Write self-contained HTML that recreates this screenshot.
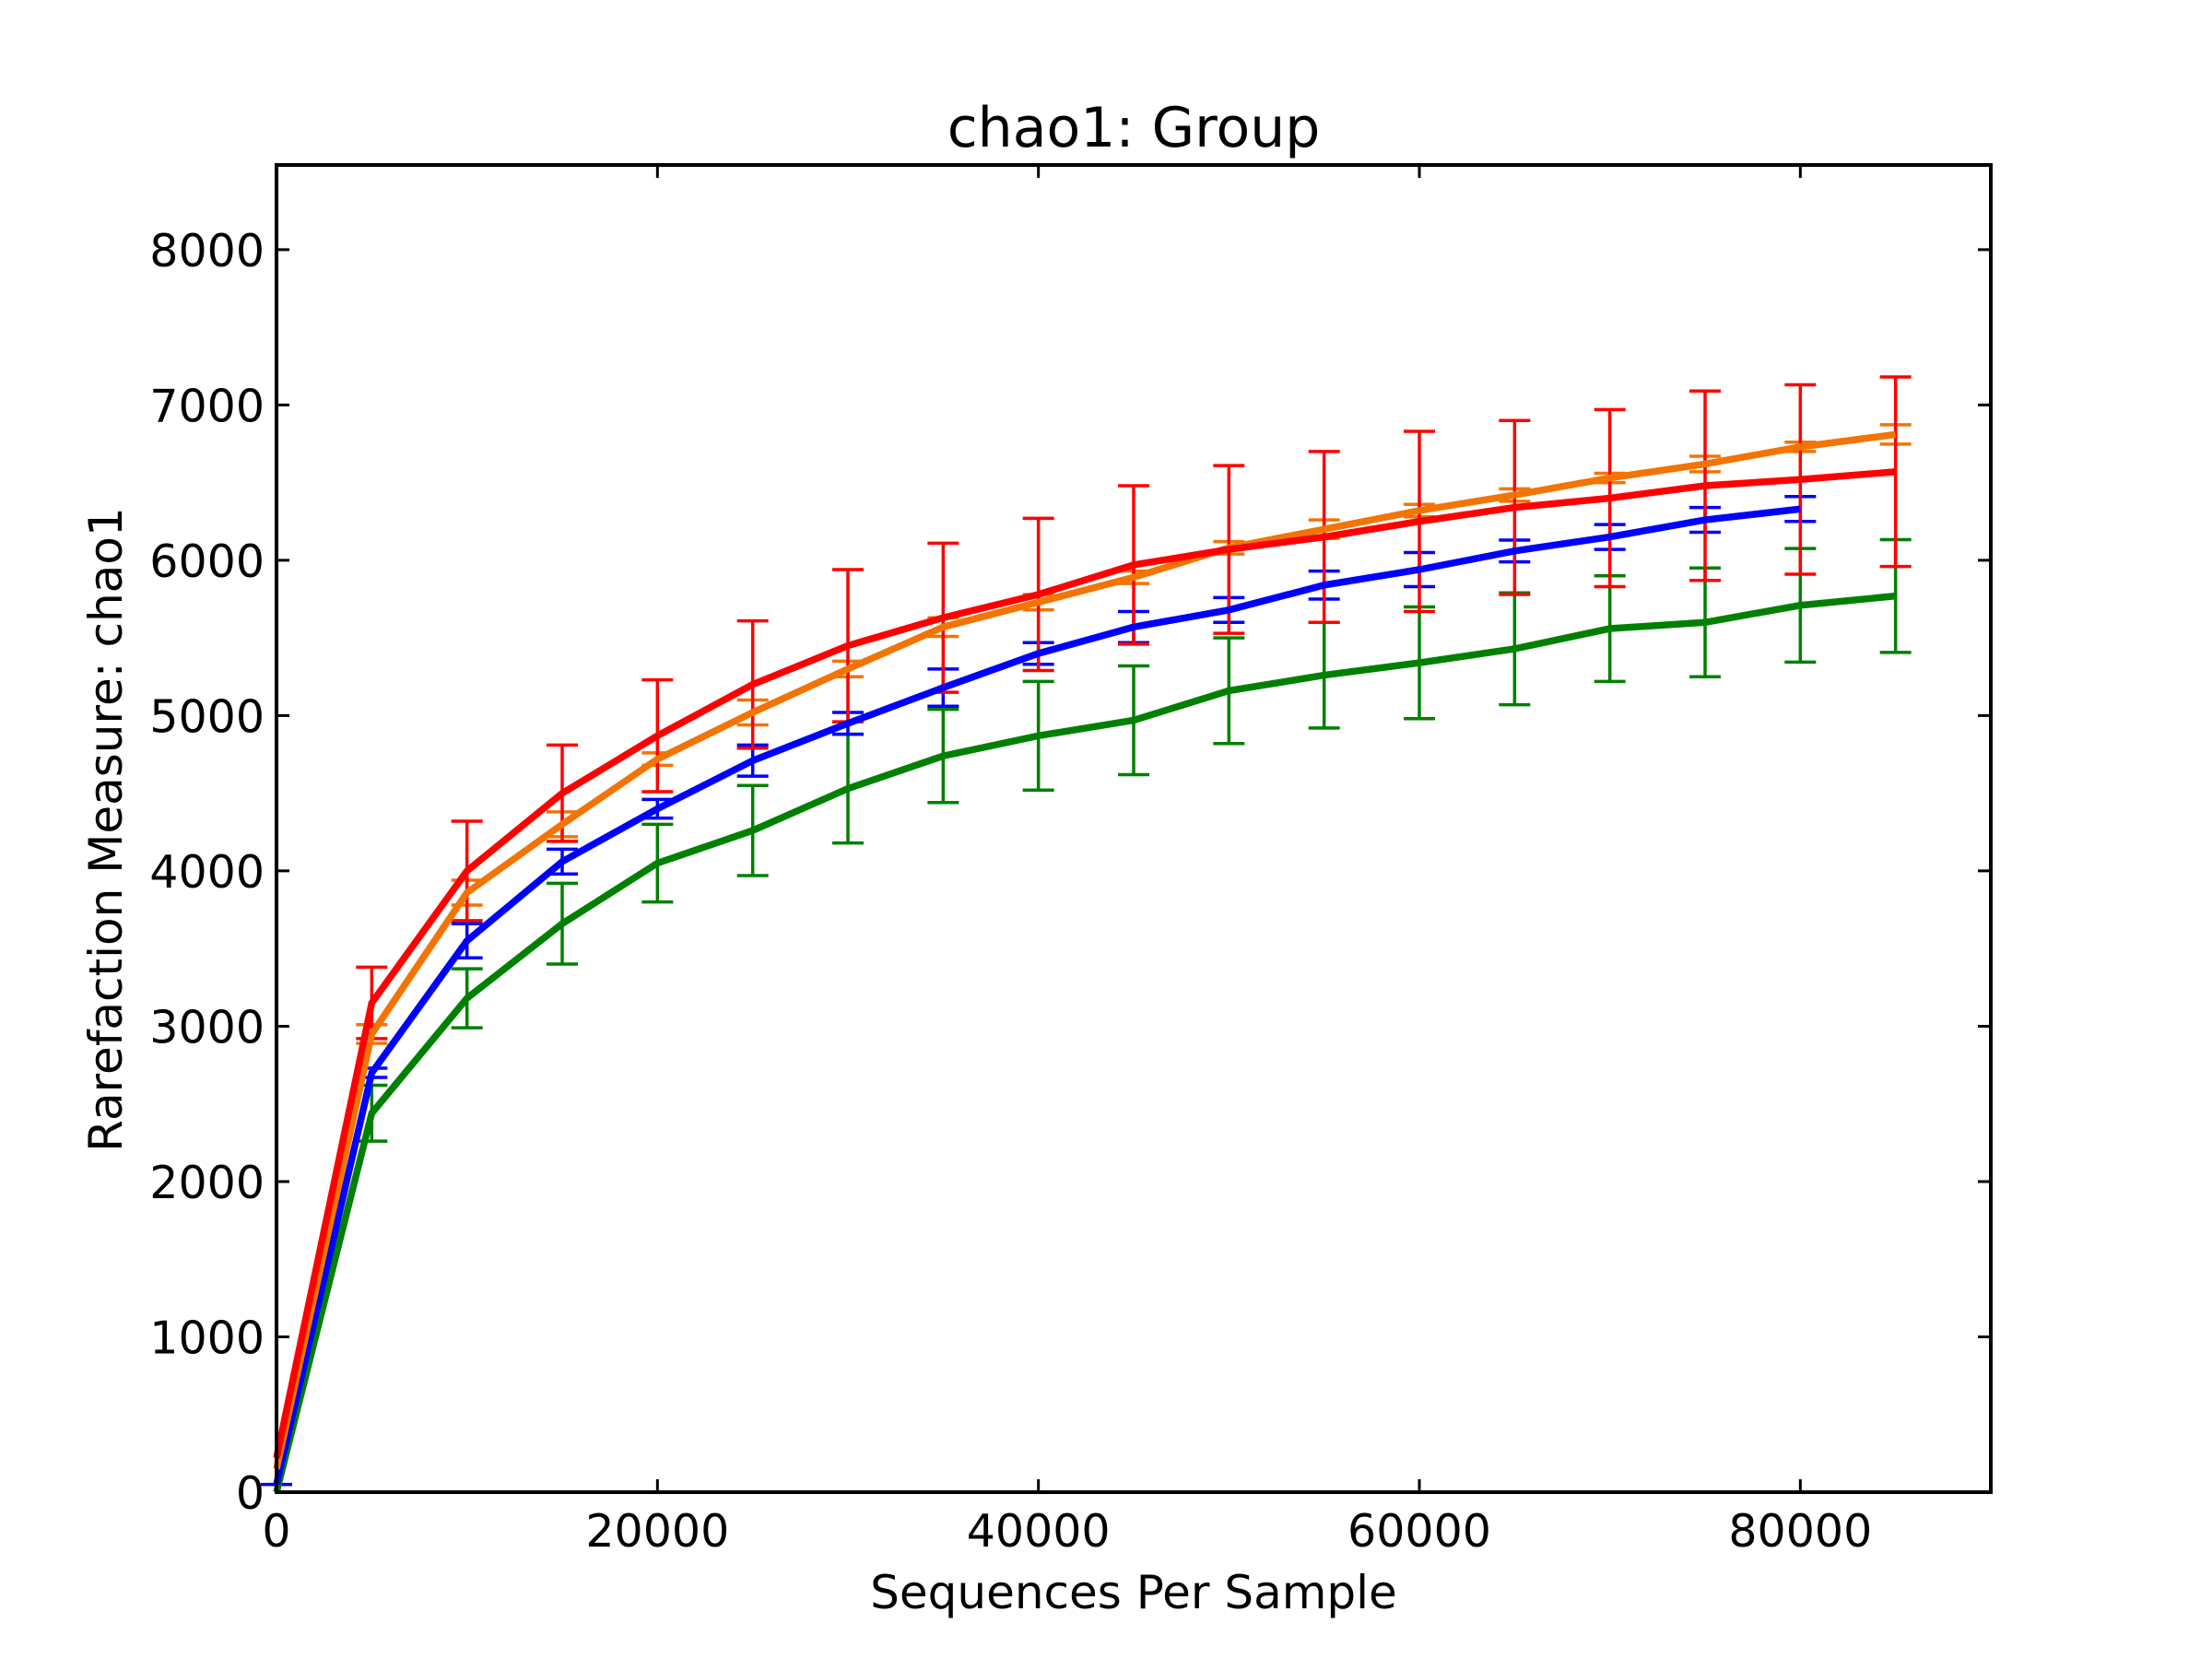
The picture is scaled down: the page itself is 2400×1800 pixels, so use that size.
<!DOCTYPE html>
<html><head><meta charset="utf-8"><style>
html,body{margin:0;padding:0;background:#fff;}
svg{display:block;font-family:"DejaVu Sans","Liberation Sans",sans-serif;}
</style></head><body>
<svg id="chart" width="2400" height="1800" viewBox="0 0 2400 1800" xmlns="http://www.w3.org/2000/svg">
<rect x="0" y="0" width="2400" height="1800" fill="#fff"/>
<g id="marks"></g>
<g id="axes"></g>
<text x="1230" y="159" font-size="60" text-anchor="middle">chao1: Group</text>
<text x="1230" y="1745" font-size="50" text-anchor="middle">Sequences Per Sample</text>
<text x="0" y="0" font-size="50" text-anchor="middle" transform="translate(132,900) rotate(-90)">Rarefaction Measure: chao1</text>
</svg>
<script>
const xValues = [0,5000,10000,15000,20000,25000,30000,35000,40000,45000,50000,55000,60000,65000,70000,75000,80000,85000];
const redMean = [220,3150,4000,4500,4870,5200,5450,5630,5780,5970,6070,6150,6250,6340,6400,6480,6520,6570];
const redErr = [0,230,320,310,360,410,490,480,490,510,540,550,580,560,570,610,610,610];
const orangeMean = [150,2950,3860,4300,4720,5020,5300,5570,5730,5890,6080,6200,6320,6420,6530,6620,6730,6810];
const orangeErr = [0,60,80,80,40,80,50,60,50,40,40,60,40,40,30,50,30,62];
const blueMean = [50,2700,3550,4060,4400,4710,4950,5180,5400,5570,5680,5840,5940,6060,6150,6260,6330];
const blueErr = [0,30,110,80,60,100,70,120,70,100,80,90,110,70,80,80,80];
const greenMean = [0,2440,3180,3660,4050,4260,4530,4740,4870,4970,5160,5260,5340,5430,5560,5600,5710,5770];
const greenErr = [0,180,190,260,250,290,350,300,350,350,340,340,360,360,340,350,366,363];
const xTicks = [0,20000,40000,60000,80000];
const yTicks = [0,1000,2000,3000,4000,5000,6000,7000,8000];

const L=300,R=2160,T=179,B=1619,XMAX=90000,YMAX=8545;
function sx(v){return L+(v/XMAX)*(R-L);}
function sy(v){return B-(v/YMAX)*(B-T);}
const NS="http://www.w3.org/2000/svg";
const marks=document.getElementById('marks');
const axes=document.getElementById('axes');
function mk(tag,attrs,parent){const e=document.createElementNS(NS,tag);for(const k in attrs)e.setAttribute(k,attrs[k]);parent.appendChild(e);return e;}

const series=[
 {name:'green',color:'#008000',mean:greenMean,err:greenErr,cap0:false},
 {name:'blue',color:'#0000ff',mean:blueMean,err:blueErr,cap0:true},
 {name:'orange',color:'#f27405',mean:orangeMean,err:orangeErr,cap0:false},
 {name:'red',color:'#ff0000',mean:redMean,err:redErr,cap0:false}
];
series.forEach(s=>{
  const g=mk('g',{},marks);
  
  
  s.mean.forEach((m,i)=>{
    if(s.err[i]===0 && !s.cap0) return;
    const x=sx(xValues[i]),y1=sy(m+s.err[i]),y2=sy(m-s.err[i]);
    const eb=mk('path',{d:`M${x},${y1}V${y2}M${x-17},${y1}H${x+17}M${x-17},${y2}H${x+17}`,stroke:s.color,'stroke-width':3.5,fill:'none'},g);
    
    
  });
});
series.forEach(s=>{
  const pts=s.mean.map((m,i)=>sx(xValues[i])+','+sy(m)).join(' ');
  const pl=mk('polyline',{points:pts,fill:'none',stroke:s.color,'stroke-width':7.5,'stroke-linejoin':'miter'},marks);
  
  
});
const fr=mk('rect',{x:L,y:T,width:R-L,height:B-T,fill:'none',stroke:'#000','stroke-width':4},axes);


xTicks.forEach(v=>{
  const x=sx(v);
  const t=mk('path',{d:`M${x},${B}V${B-14}M${x},${T}V${T+14}`,stroke:'#000','stroke-width':3},axes);
  
  
  const lb=mk('text',{x:x,y:1678,'font-size':49,'text-anchor':'middle'},axes);
  lb.textContent=String(v);
  
  
});
yTicks.forEach(v=>{
  const y=sy(v);
  const t=mk('path',{d:`M${L},${y}H${L+14}M${R},${y}H${R-14}`,stroke:'#000','stroke-width':3},axes);
  
  
  const lb=mk('text',{x:287,y:y+18,'font-size':49,'text-anchor':'end'},axes);
  lb.textContent=String(v);
  
  
});
</script>
</body></html>
